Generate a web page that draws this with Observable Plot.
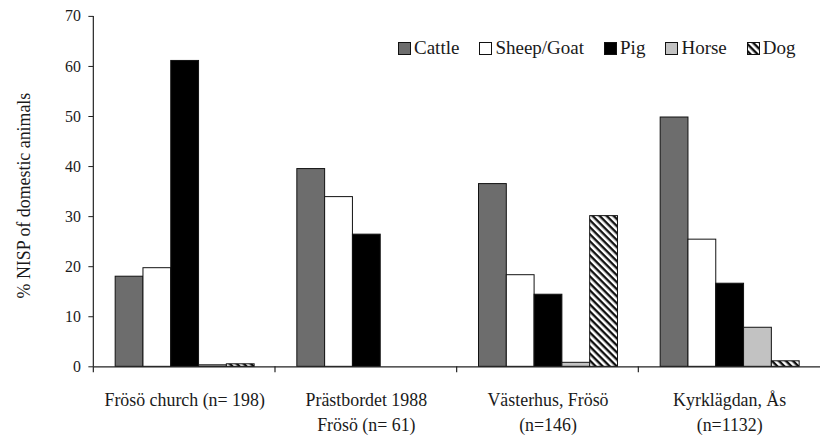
<!DOCTYPE html>
<html>
<head>
<meta charset="utf-8">
<script src="https://cdn.jsdelivr.net/npm/d3@7"></script>
<script src="https://cdn.jsdelivr.net/npm/@observablehq/plot@0.6"></script>
<style>
  html, body { margin: 0; padding: 0; background: #fff; overflow: hidden; }
  #wrap { position: relative; width: 821px; height: 438px; overflow: hidden; }
  #wrap > svg { display: block; }
  #legend { position: absolute; top: 37px; left: 398px; display: flex; align-items: center; line-height: 22px;
            font-family: "Liberation Serif", "Times New Roman", "DejaVu Serif", serif; font-size: 19px; color: #1a1a1a; white-space: nowrap; }
  #legend .item { display: flex; align-items: center; margin-right: 20px; }
  #legend svg { margin-right: 3px; display: block; }
</style>
</head>
<body>
<svg width="0" height="0" style="position:absolute">
  <defs>
    <pattern id="hatch" patternUnits="userSpaceOnUse" width="5" height="5" patternTransform="rotate(45)">
      <rect width="5" height="5" fill="white"></rect>
      <rect width="5" height="2.4" fill="#111"></rect>
    </pattern>
  </defs>
</svg>
<div id="wrap"><div id="legend"></div></div>
<script>
const sites = ["Frösö church (n= 198)", "Prästbordet 1988\nFrösö (n= 61)", "Västerhus, Frösö\n(n=146)", "Kyrklägdan, Ås\n(n=1132)"];
const animals = ["Cattle", "Sheep/Goat", "Pig", "Horse", "Dog"];
const cattle    = [18.0, 39.5, 36.5, 49.8];
const sheepGoat = [19.7, 33.9, 18.3, 25.4];
const pig       = [61.1, 26.4, 14.4, 16.6];
const horse     = [0.3, 0.0, 0.8, 7.8];
const dog       = [0.5, 0.0, 30.1, 1.1];
const yTicks = [0, 10, 20, 30, 40, 50, 60, 70];
const yLabel = "% NISP of domestic animals";
const fills = ["#6d6d6d", "#ffffff", "#000000", "#c2c2c2", "url(#hatch)"];

const series = [cattle, sheepGoat, pig, horse, dog];
const data = [];
sites.forEach((s, i) => animals.forEach((a, j) => data.push({site: s, animal: a, value: series[j][i]})));

const font = "'Liberation Serif', 'Times New Roman', 'DejaVu Serif', serif";

const chart = Plot.plot({
  width: 827,
  height: 438,
  marginLeft: 93,
  marginRight: 0,
  marginTop: 16,
  marginBottom: 69,
  style: {fontFamily: font, fontSize: "18px", color: "#1a1a1a", background: "white"},
  fx: {domain: sites, paddingInner: 0, paddingOuter: 0, label: null},
  x: {domain: animals, paddingInner: 0, paddingOuter: 0.72, axis: null},
  y: {domain: [0, 70], label: null},
  color: {domain: animals, range: fills},
  marks: [
    Plot.barY(data, {fx: "site", x: "animal", y: "value", fill: "animal", stroke: "#111", strokeWidth: 1}),
    Plot.ruleY([0], {stroke: "#222", strokeWidth: 1.2}),
    Plot.axisY({ticks: yTicks, tickSize: 5, tickPadding: 8, fontSize: 16, label: null}),
    Plot.axisFx({anchor: "bottom", tickSize: 0, tickPadding: 22, fontSize: 18, lineHeight: 1.39, label: null}),
    Plot.text([yLabel], {facet: "super", frameAnchor: "left", textAnchor: "middle", rotate: -90, dx: -70, dy: 4, fontSize: 18, fill: "#1a1a1a"})
  ]
});
document.getElementById("wrap").prepend(chart);

// y-axis line and group-boundary ticks, positioned with the chart's own scales
const fxS = chart.scale("fx"), yS = chart.scale("y");
const svg = d3.select(chart);
const g = svg.append("g").attr("stroke", "#222").attr("stroke-width", 1.2);
const x0 = fxS.apply(sites[0]);
g.append("line").attr("x1", x0).attr("x2", x0).attr("y1", yS.apply(70)).attr("y2", yS.apply(0));
sites.forEach(s => {
  const b = fxS.apply(s);
  g.append("line").attr("x1", b).attr("x2", b).attr("y1", yS.apply(0)).attr("y2", yS.apply(0) + 6);
});

const legend = document.getElementById("legend");
animals.forEach((a, j) => {
  const item = document.createElement("div");
  item.className = "item";
  item.innerHTML = `<svg width="13" height="13"><rect x="0.5" y="0.5" width="12" height="12" fill="${fills[j]}" stroke="#111"></rect></svg><span>${a}</span>`;
  legend.appendChild(item);
});
</script>
</body>
</html>
